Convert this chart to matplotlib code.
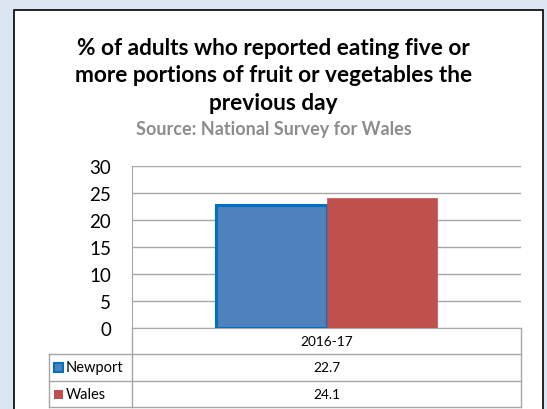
import matplotlib.pyplot as plt
from matplotlib.patches import Rectangle

# data
categories = ['2016-17']
series = ['Newport', 'Wales']
values = [[22.7], [24.1]]
colors = ['#4F81BD', '#C0504D']
edges = ['#0070C0', '#C0504D']
yticks = [0, 5, 10, 15, 20, 25, 30]

W, H = 547, 410
fig = plt.figure(figsize=(W / 100, H / 100), dpi=100)
fig.patch.set_facecolor('#DCE6F2')
plt.rcParams['font.family'] = ['Lato', 'DejaVu Sans']

def fx(px):
    return px / W

def fy(py):
    return 1 - py / H

# white chart box with black border
fig.add_artist(Rectangle((fx(14), fy(420)), fx(543 - 14), (420 - 11) / H,
                         transform=fig.transFigure, facecolor='white',
                         edgecolor='black', linewidth=1.2, zorder=0))

# titles
fig.text(0.5, fy(76), '% of adults who reported eating five or\nmore portions of fruit or vegetables the\nprevious day',
         ha='center', va='center', fontsize=16.3, fontweight='bold', linespacing=1.36)
fig.text(0.5, fy(130), 'Source: National Survey for Wales', ha='center', va='center',
         fontsize=13, fontweight='bold', color='#8C8C8C')

# plot area
left, right, top, bottom = 132, 521, 167, 329
ax = fig.add_axes([fx(left), fy(bottom), fx(right - left), (bottom - top) / H])
ax.set_facecolor('none')
ax.set_ylim(0, 30)
ax.set_xlim(-0.5, 0.5)
ax.set_yticks(yticks)
ax.tick_params(axis='y', length=0, labelsize=13.5, pad=15)
ax.set_xticks([])
ax.yaxis.grid(True, color='#A6A6A6', linewidth=1)
ax.set_axisbelow(True)
for s in ['top', 'right']:
    ax.spines[s].set_visible(False)
for s in ['left', 'bottom']:
    ax.spines[s].set_color('#A6A6A6')

bw = 0.285
for i, (name, vals) in enumerate(zip(series, values)):
    xs = [c + (i - 0.5) * bw for c in range(len(categories))]
    lw = 2.2 if i == 0 else 0.5
    ax.bar(xs, vals, width=bw, color=colors[i], edgecolor=edges[i], linewidth=lw, zorder=3)

# data table under axis
tleft = 49
row_h = [26, 27, 26]
lc = '#A6A6A6'
def hline(y, x0, x1):
    fig.add_artist(plt.Line2D([fx(x0), fx(x1)], [fy(y), fy(y)], color=lc, linewidth=1, transform=fig.transFigure))
def vline(x, y0, y1):
    fig.add_artist(plt.Line2D([fx(x), fx(x)], [fy(y0), fy(y1)], color=lc, linewidth=1, transform=fig.transFigure))

y1 = bottom + row_h[0]
y2 = y1 + row_h[1]
y3 = y2 + row_h[2]
vline(left, bottom, y3)
vline(right, bottom, y3)
vline(tleft, y1, y3)
hline(y1, tleft, right)
hline(y2, tleft, right)
hline(y3, tleft, right)

cx = (left + right) / 2
fig.text(fx(cx), fy((bottom + y1) / 2), categories[0], ha='center', va='center', fontsize=9.8)
row_mid = [(y1 + y2) / 2, (y2 + y3) / 2]
for i, name in enumerate(series):
    ym = row_mid[i]
    lw = 1.5 if i == 0 else 0
    fig.add_artist(Rectangle((fx(54), fy(ym + 4.5)), fx(9), 9 / H, transform=fig.transFigure,
                             facecolor=colors[i], edgecolor=edges[i], linewidth=lw))
    fig.text(fx(66), fy(ym), name, ha='left', va='center', fontsize=10.5)
    fig.text(fx(cx), fy(ym), f'{values[i][0]:.1f}', ha='center', va='center', fontsize=9.8)

fig.savefig('out.png', dpi=100, facecolor=fig.get_facecolor())
